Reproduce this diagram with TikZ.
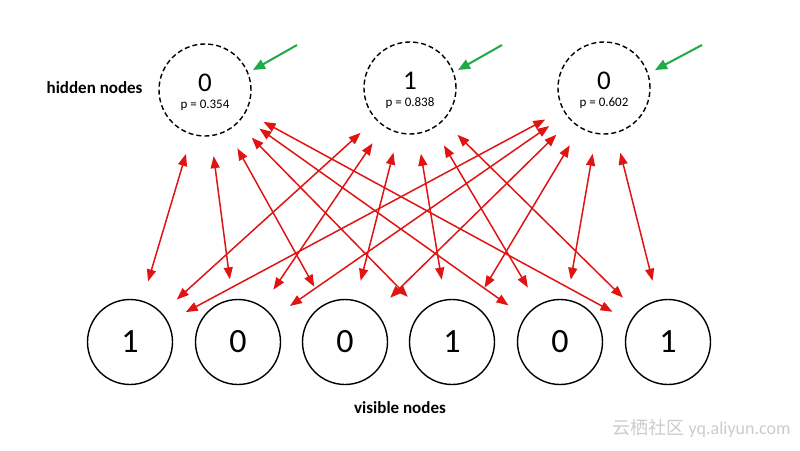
\documentclass[tikz,border=0pt]{standalone}
\usepackage{fontspec}
\setmainfont{Carlito}
\newfontfamily\cjk{Noto Sans CJK SC}
\usetikzlibrary{arrows.meta}
\definecolor{rd}{RGB}{225,20,20}
\definecolor{gr}{RGB}{30,170,70}
\begin{document}
\begin{tikzpicture}[x=1pt,y=-1pt,
  hid/.style={circle,draw,dash pattern=on 5pt off 3pt,line width=1.4pt,minimum size=92pt,inner sep=0pt},
  vis/.style={circle,draw,line width=1.4pt,minimum size=85pt,inner sep=0pt,font=\fontsize{34}{36}\selectfont},
  link/.style={rd,line width=1.5pt,{Triangle[length=12pt,width=9pt]}-{Triangle[length=12pt,width=9pt]},shorten <=20pt,shorten >=20pt},
  hint/.style={gr,line width=2pt,-{Triangle[length=12pt,width=10pt]}},
  big/.style={font=\fontsize{27}{28}\selectfont},
  small/.style={font=\fontsize{13}{14}\selectfont}]
\fill[white] (0,0) rectangle (800,450);
\node[hid] (h1) at (205,90) {};
\node[hid] (h2) at (410,88) {};
\node[hid] (h3) at (604,88) {};
\foreach \i/\d/\p in {1/0/0.354,2/1/0.838,3/0/0.602}{
  \node[big] (hd\i) at ([yshift=7pt]h\i.center) {\d};
  \node[small] (hp\i) at ([yshift=-15pt]h\i.center) {p = \p};}
\foreach \i/\x/\t in {1/130/1,2/238/0,3/345/0,4/452/1,5/560/0,6/668/1}
  \node[vis] (v\i) at (\x,342) {\t};
\foreach \h in {1,2,3}
  \foreach \v in {1,...,6}
    \draw[link] (h\h) -- (v\v);
\node[font=\bfseries\fontsize{17}{19}\selectfont,anchor=east] (hl) at (146,88) {hidden nodes};
\node[font=\bfseries\fontsize{17}{19}\selectfont] (vl) at (400,408) {visible nodes};
\coordinate (g1) at (297,45); \coordinate (g1e) at (253,70);
\coordinate (g2) at (502,45); \coordinate (g2e) at (458,70);
\coordinate (g3) at (702,45); \coordinate (g3e) at (655,70);
\draw[hint] (g1) -- (g1e);
\draw[hint] (g2) -- (g2e);
\draw[hint] (g3) -- (g3e);
\node[gray!40,font=\fontsize{18}{20}\selectfont,anchor=east] (wm) at (794,428) {{\cjk 云栖社区} yq.aliyun.com};
\end{tikzpicture}
\end{document}
